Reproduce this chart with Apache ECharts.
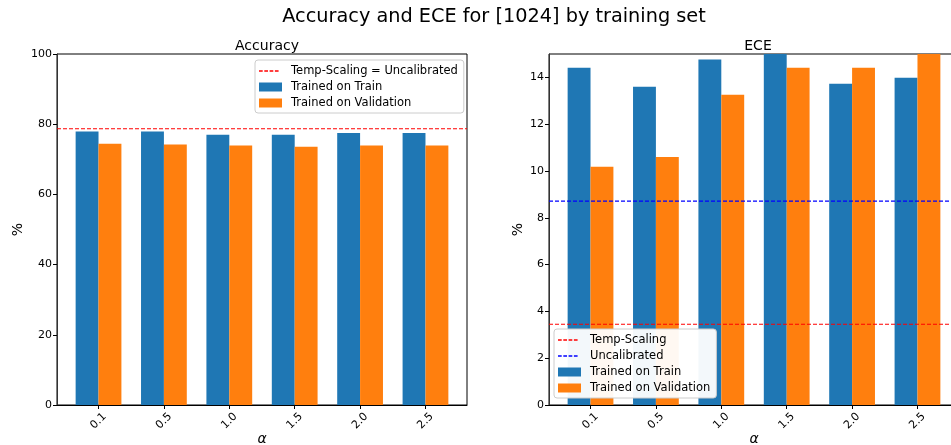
<!DOCTYPE html>
<html>
<head>
<meta charset="utf-8">
<script src="https://cdn.jsdelivr.net/npm/echarts@6/dist/echarts.min.js"></script>
<style>
  html, body { margin: 0; padding: 0; background: #fff; }
  #chart { width: 951px; height: 445px; }
</style>
</head>
<body>
<div id="chart"></div>
<script>
// alpha values on the x axis
const alphaLabels = ['0.1', '0.5', '1.0', '1.5', '2.0', '2.5'];

// Accuracy (%)
const accTrain = [77.9, 77.9, 77.0, 77.0, 77.5, 77.5];
const accVal = [74.4, 74.2, 73.9, 73.6, 73.9, 73.9];
const accTempScaling = 78.7;
const accTicks = [0, 20, 40, 60, 80, 100];

// ECE (%)
const eceTrain = [14.41, 13.6, 14.76, 15.3, 13.73, 13.98];
const eceVal = [10.18, 10.6, 13.26, 14.41, 14.41, 15.4];
const eceTempScaling = 3.45;
const eceUncalibrated = 8.71;
const eceTicks = [0, 2, 4, 6, 8, 10, 12, 14];

const FONT = 'DejaVu Sans';
const BLUE = '#1f77b4';
const ORANGE = '#ff7f0e';
// x extent: bar group edges plus a 5% margin on each side
const X_MIN = -0.635;
const X_MAX = 5.635;
const idx = alphaLabels.map((_, i) => i);
const pairs = arr => arr.map((v, i) => [i, v]);

// dashed-line legend glyph (two zero-area corner points keep the 23x9 box)
const DASH_ICON = 'path://M0,0L0.01,0L0.01,0.01ZM23,9L23.01,9L23.01,9.01Z' +
  'M0,3.8L3.7,3.8L3.7,5.2L0,5.2Z' +
  'M5.3,3.8L9,3.8L9,5.2L5.3,5.2Z' +
  'M10.6,3.8L14.3,3.8L14.3,5.2L10.6,5.2Z' +
  'M15.9,3.8L19.6,3.8L19.6,5.2L15.9,5.2Z';

function xAxisFor(gridIndex) {
  return {
    type: 'value', gridIndex,
    min: X_MIN, max: X_MAX,
    name: 'α', nameLocation: 'middle', nameGap: 27, nameMoveOverlap: false,
    nameTextStyle: { fontFamily: FONT, fontSize: 14, fontStyle: 'italic', color: '#000' },
    axisLine: { show: true, onZero: false, lineStyle: { color: '#000', width: 1 } },
    axisTick: { show: true, length: 4, customValues: idx, lineStyle: { color: '#000' } },
    axisLabel: {
      customValues: idx, formatter: v => alphaLabels[Math.round(v)],
      rotate: 45, align: 'center', verticalAlign: 'middle', margin: 16,
      fontFamily: FONT, fontSize: 11, color: '#000'
    },
    splitLine: { show: false }
  };
}

function yAxisFor(gridIndex, max, ticks, gap) {
  return {
    type: 'value', gridIndex, min: 0, max,
    name: '%', nameLocation: 'middle', nameGap: gap, nameRotate: 90, nameMoveOverlap: false,
    nameTextStyle: { fontFamily: FONT, fontSize: 14, color: '#000' },
    axisLine: { show: true, onZero: false, lineStyle: { color: '#333', width: 1 } },
    axisTick: { show: true, length: 4, customValues: ticks, lineStyle: { color: '#000' } },
    axisLabel: { customValues: ticks, margin: 5, fontFamily: FONT, fontSize: 11, color: '#000' },
    splitLine: { show: false }
  };
}

function bars(name, data, color, axisIndex) {
  return {
    name, type: 'bar', xAxisIndex: axisIndex, yAxisIndex: axisIndex,
    data: pairs(data), barWidth: '35%', barGap: '0%',
    itemStyle: { color, borderWidth: 0 }, clip: true, silent: true
  };
}

// horizontal reference line spanning the full x extent
function hline(name, value, color, axisIndex) {
  return {
    name, type: 'line', xAxisIndex: axisIndex, yAxisIndex: axisIndex,
    data: [[X_MIN, value], [X_MAX, value]],
    symbol: 'none', showSymbol: false, silent: true, z: 3,
    itemStyle: { color },
    lineStyle: { color, width: 1.2, type: [4, 2] }
  };
}

const legendBase = {
  orient: 'vertical', itemWidth: 23, itemHeight: 9, itemGap: 4,
  padding: [5, 6, 4, 4], borderColor: '#ccc', borderWidth: 1, borderRadius: 3,
  backgroundColor: 'rgba(255,255,255,0.95)',
  textStyle: { fontFamily: FONT, fontSize: 11.5, color: '#000', padding: [0, 0, 0, 4] },
  selectedMode: false
};

const chart = echarts.init(document.getElementById('chart'), null, { renderer: 'canvas' });
chart.setOption({
  animation: false,
  backgroundColor: '#fff',
  title: [
    { text: 'Accuracy and ECE for [1024] by training set', left: 489, top: 2, textAlign: 'center',
      textStyle: { fontFamily: FONT, fontSize: 19.3, fontWeight: 'normal', color: '#000' } },
    { text: 'Accuracy', left: 262, top: 34, textAlign: 'center',
      textStyle: { fontFamily: FONT, fontSize: 14, fontWeight: 'normal', color: '#000' } },
    { text: 'ECE', left: 753, top: 34, textAlign: 'center',
      textStyle: { fontFamily: FONT, fontSize: 14, fontWeight: 'normal', color: '#000' } }
  ],
  grid: [
    { left: 57, top: 54, width: 410, height: 351, outerBoundsMode: 'none', containLabel: false,
      show: true, borderColor: '#000', borderWidth: 1, backgroundColor: 'transparent' },
    { left: 549, top: 54, width: 410, height: 351, outerBoundsMode: 'none', containLabel: false,
      show: true, borderColor: '#000', borderWidth: 1, backgroundColor: 'transparent' }
  ],
  xAxis: [xAxisFor(0), xAxisFor(1)],
  yAxis: [yAxisFor(0, 100, accTicks, 32), yAxisFor(1, 15, eceTicks, 24)],
  legend: [
    Object.assign({}, legendBase, {
      left: 255, top: 60,
      data: [
        { name: 'Temp-Scaling = Uncalibrated', icon: DASH_ICON },
        { name: 'Trained on Train', icon: 'rect' },
        { name: 'Trained on Validation', icon: 'rect' }
      ]
    }),
    Object.assign({}, legendBase, {
      left: 554, top: 329,
      data: [
        { name: 'Temp-Scaling', icon: DASH_ICON },
        { name: 'Uncalibrated', icon: DASH_ICON },
        { name: 'Trained on Train', icon: 'rect' },
        { name: 'Trained on Validation', icon: 'rect' }
      ]
    })
  ],
  series: [
    bars('Trained on Train', accTrain, BLUE, 0),
    bars('Trained on Validation', accVal, ORANGE, 0),
    hline('Temp-Scaling = Uncalibrated', accTempScaling, '#ff0000', 0),
    bars('Trained on Train', eceTrain, BLUE, 1),
    bars('Trained on Validation', eceVal, ORANGE, 1),
    hline('Temp-Scaling', eceTempScaling, '#ff0000', 1),
    hline('Uncalibrated', eceUncalibrated, '#0000ff', 1)
  ]
});
</script>
</body>
</html>
